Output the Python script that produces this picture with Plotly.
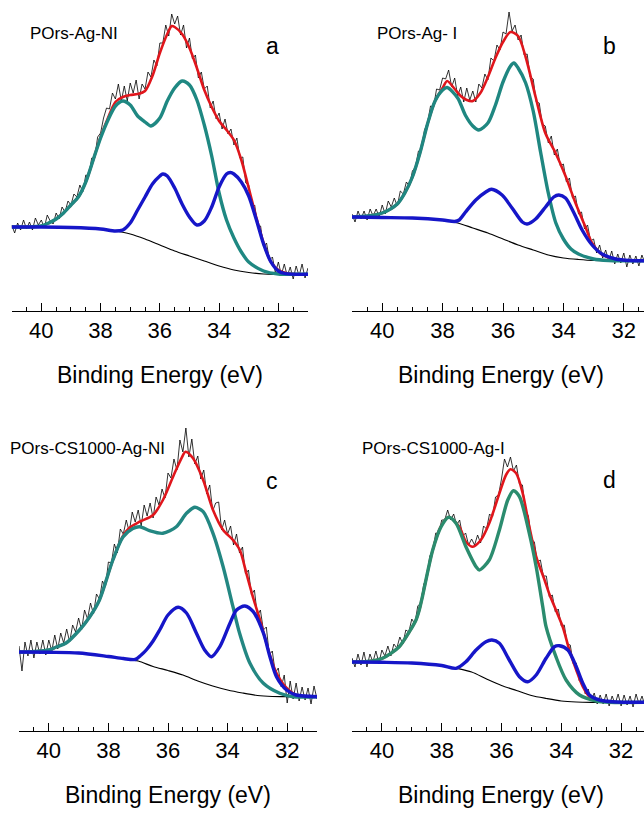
import plotly.graph_objects as go

# ---------------- measured spectra (binding energy grid, 0.1 eV step) ----------------
E_DATA = [round(41.0 - 0.1 * i, 1) for i in range(101)]

A_DATA = [86, 78, 88, 81, 91, 82, 89, 81, 93, 86,
          91, 83, 96, 90, 87, 98, 92, 104, 99, 110,
          106, 117, 114, 126, 119, 136, 135, 153, 153, 174,
          178, 193, 203, 202, 218, 212, 227, 210, 225, 210,
          228, 218, 231, 212, 227, 222, 239, 234, 251, 245,
          268, 268, 286, 275, 297, 287, 295, 276, 286, 263,
          273, 252, 256, 233, 239, 222, 225, 203, 210, 192,
          198, 182, 192, 177, 182, 166, 173, 153, 154, 128,
          126, 103, 106, 86, 85, 64, 68, 51, 54, 38,
          49, 36, 47, 35, 44, 32, 45, 35, 47, 33,
          43]
B_DATA = [97, 89, 100, 92, 100, 91, 102, 95, 102, 94,
          106, 97, 110, 104, 113, 105, 120, 117, 129, 125,
          140, 144, 160, 161, 181, 188, 205, 204, 222, 221,
          233, 232, 241, 224, 233, 215, 224, 209, 223, 211,
          220, 209, 227, 223, 237, 231, 253, 250, 266, 261,
          279, 277, 299, 280, 286, 271, 276, 256, 257, 234,
          232, 209, 208, 187, 185, 168, 175, 156, 162, 145,
          147, 129, 133, 113, 115, 97, 99, 82, 86, 70,
          72, 58, 66, 53, 61, 50, 60, 47, 57, 48,
          58, 44, 56, 47, 55, 45, 56, 48, 55, 46,
          53]
C_DATA = [85, 60, 89, 75, 91, 73, 89, 77, 91, 76,
          91, 80, 96, 82, 98, 88, 102, 89, 106, 99,
          113, 101, 121, 112, 128, 117, 137, 132, 150, 144,
          169, 168, 187, 178, 202, 197, 211, 199, 219, 209,
          221, 205, 226, 215, 228, 213, 234, 226, 242, 233,
          258, 253, 272, 261, 291, 279, 303, 274, 292, 267,
          275, 252, 261, 237, 246, 220, 228, 229, 201, 211,
          197, 205, 186, 197, 178, 184, 157, 161, 136, 141,
          115, 121, 101, 104, 76, 80, 58, 63, 44, 56,
          28, 50, 32, 48, 30, 44, 31, 43, 27, 45,
          32]
D_DATA = [73, 64, 77, 66, 79, 64, 77, 69, 80, 68,
          81, 75, 85, 75, 87, 83, 94, 87, 101, 99,
          112, 107, 125, 128, 147, 152, 175, 180, 198, 197,
          211, 211, 221, 211, 217, 206, 211, 195, 198, 186,
          192, 186, 196, 188, 205, 202, 217, 214, 234, 236,
          252, 272, 264, 274, 260, 266, 247, 246, 221, 215,
          192, 189, 169, 171, 155, 155, 134, 136, 119, 122,
          105, 106, 87, 86, 67, 68, 50, 52, 37, 42,
          30, 38, 27, 36, 27, 37, 25, 35, 27, 37,
          25, 36, 26, 35, 24, 37, 27, 35, 25, 34,
          26]

# ---------------- fitted curves (energy, intensity) ----------------
A_BG_E = [41, 40, 39, 38.5, 38, 37.5, 37, 36.5, 36, 35.5, 35, 34.5, 34, 33.5, 33, 32.5, 32, 31]
A_BG_I = [84, 84, 83.5, 83, 82, 80, 77, 72, 66, 60, 55, 50, 45, 41, 38.5, 37, 36.7, 36.7]
A_BLUE_E = [41, 40, 39, 38, 37.5, 37.25, 37, 36.75, 36.5, 36.25, 36, 35.9, 35.75, 35.5, 35.25, 35,
            34.75, 34.5, 34.25, 34, 33.75, 33.62, 33.5, 33.25, 33, 32.75, 32.5, 32.25, 32, 31.75, 31]
A_BLUE_I = [84, 84, 83.5, 82, 80, 81, 88, 101, 114, 127, 135, 137, 135, 123, 107, 94,
            86, 90, 104, 124, 137, 138.5, 137, 129, 115, 92, 67, 49, 40, 37.3, 36.7]
A_TEAL_E = [41, 40.5, 40, 39.75, 39.5, 39.25, 39, 38.75, 38.5, 38.25, 38, 37.75, 37.5, 37.25, 37,
            36.75, 36.5, 36.3, 36, 35.75, 35.5, 35.25, 35, 34.75, 34.5, 34.25, 34, 33.75, 33.5,
            33.25, 33, 32.5, 32, 31.5, 31]
A_TEAL_I = [84, 84, 85, 88, 92, 98, 106, 114, 129, 151, 173, 191, 205, 210, 206,
            195, 189, 185, 193, 210, 223, 230, 226, 211, 186, 155, 118, 91, 73,
            59, 49, 40, 37, 36.7, 36.7]
A_RED_E = [41, 40.5, 40, 39.75, 39.5, 39.25, 39, 38.75, 38.5, 38.25, 38, 37.75, 37.5, 37.25, 37,
           36.75, 36.5, 36.25, 36, 35.75, 35.6, 35.5, 35.25, 35, 34.75, 34.5, 34.25, 34, 33.75,
           33.5, 33.25, 33, 32.75, 32.5, 32.25, 32, 31.75, 31.5, 31]
A_RED_I = [84, 84, 85, 88, 92, 98, 106, 114, 129, 151, 174, 193, 209, 214, 216,
           217, 220, 235, 258, 277, 285, 284, 277, 263, 243, 221, 204, 190, 181,
           171, 151, 123, 94, 68, 49, 41, 38, 37, 36.7]

B_BG_E = [41, 40, 39, 38.5, 38, 37.5, 37, 36.5, 36, 35.5, 35, 34.5, 34, 33.5, 33, 32, 31]
B_BG_I = [94, 93.5, 93, 92, 90.5, 88, 83, 78, 72, 66, 61, 56, 53, 51.5, 50.5, 50.3, 50.3]
B_BLUE_E = [41, 40, 39, 38, 37.6, 37.45, 37.24, 36.9, 36.57, 36.38, 36.03, 35.7, 35.36, 35.2,
            34.92, 34.59, 34.32, 34.15, 33.93, 33.65, 33.38, 33.05, 32.72, 32.27, 31.8, 31]
B_BLUE_I = [94, 93.5, 93, 91, 89.5, 91, 99, 111, 119, 121.7, 116, 103, 89, 87,
            92, 104, 114, 116, 113, 98, 81, 66, 57, 52, 50.5, 50.3]
B_TEAL_E = [41, 40.5, 40, 39.5, 39.25, 39, 38.75, 38.5, 38.25, 38, 37.85, 37.5, 37.25, 37, 36.8,
            36.5, 36.25, 36, 35.75, 35.64, 35.5, 35.25, 35, 34.75, 34.5, 34.25, 34, 33.75, 33.5,
            33, 32.5, 32, 31]
B_TEAL_I = [94, 95, 98, 107, 118, 134, 158, 187, 210, 221, 223.5, 213, 196, 185, 181,
            188, 206, 229, 245, 248, 243, 228, 200, 158, 118, 88, 72, 62, 57,
            52, 50.5, 50.3, 50.3]
B_RED_E = [41, 40.5, 40, 39.5, 39.25, 39, 38.75, 38.5, 38.25, 38, 37.85, 37.6, 37.4, 37.2, 37,
           36.75, 36.5, 36.25, 36, 35.75, 35.5, 35.25, 34.92, 34.6, 34.26, 33.93, 33.6, 33.27,
           33.05, 32.7, 32.3, 31.8, 31]
B_RED_I = [94, 95, 98, 107, 118, 134, 158, 187, 210, 223, 230, 222, 215, 211, 210,
           218, 234, 253, 269, 279, 275, 254, 214, 178, 158, 135, 108, 84,
           68, 56, 52, 50.5, 50.3]

C_BG_E = [41, 40, 39, 38.5, 38, 37.5, 37, 36.5, 36, 35.5, 35, 34.5, 34, 33.5, 33, 32.5, 32, 31]
C_BG_I = [79, 78.7, 78, 76.5, 74.5, 72.5, 70, 64.5, 60.5, 56, 50, 45, 41, 38, 35.5, 34.5, 34.3, 34.3]
C_BLUE_E = [41, 40, 39, 38, 37.5, 37.1, 36.9, 36.73, 36.5, 36.28, 36, 35.66, 35.38, 35.05, 34.77,
            34.54, 34.26, 33.92, 33.7, 33.42, 33.14, 32.8, 32.58, 32.36, 32.02, 31.7, 31]
C_BLUE_I = [79, 78.7, 78, 74.5, 72.5, 71.5, 76, 81, 90, 101, 116, 123.7, 118, 98, 81,
            74.3, 84.3, 107.7, 121, 125, 119.3, 98, 74.3, 54.3, 41, 36, 34.3]
C_TEAL_E = [41, 40.5, 40, 39.75, 39.42, 38.97, 38.63, 38.3, 37.85, 37.51, 37.18, 36.95, 36.62,
            36.17, 35.72, 35.38, 35.1, 34.82, 34.49, 34.15, 33.82, 33.6, 33.25, 32.8, 32.25, 31.8, 31]
C_TEAL_I = [79, 79.5, 81, 84, 88, 101, 114, 131, 171, 194, 202.5, 204.3, 200.3,
            197.7, 204.3, 217.7, 223.7, 219.3, 197.7, 164.3, 124.3, 98, 67.7, 47.7, 37.7, 34.3, 34.3]
C_RED_E = [41, 40.5, 40, 39.75, 39.42, 38.97, 38.63, 38.3, 37.85, 37.51, 37.3, 36.95, 36.5, 36.17,
           35.83, 35.55, 35.41, 35.16, 34.82, 34.49, 34.15, 33.82, 33.59, 33.37, 33.12, 32.92,
           32.8, 32.58, 32.36, 32.02, 31.7, 31]
C_RED_I = [79, 79.5, 81, 84, 88, 101, 114, 131, 171, 195, 203, 209.3, 216, 231,
           254.3, 272.7, 279.3, 272.7, 251, 221, 201, 191, 181, 157.7, 131, 112,
           99, 76, 58, 43, 36, 34.3]

D_BG_E = [41, 40, 39, 38.5, 38, 37.5, 37, 36.5, 36, 35.5, 35, 34.5, 34, 33.5, 33, 31]
D_BG_I = [69, 68.7, 68, 67, 65.5, 62.7, 59, 52, 45.5, 40.5, 35.5, 32.5, 30, 29, 28.7, 28.7]
D_BLUE_E = [41, 40, 39, 38, 37.52, 37.19, 36.85, 36.52, 36.32, 36.07, 35.74, 35.4, 35.12, 34.84,
            34.51, 34.23, 34.06, 33.78, 33.5, 33.28, 33.06, 32.72, 32.3, 31]
D_BLUE_I = [69, 68.7, 68, 65.5, 62.7, 69.3, 81, 89.3, 91, 87.7, 71, 54.3, 49.3, 56,
            72.7, 84.3, 85.3, 81, 64.3, 47.7, 36, 31, 29.3, 28.7]
D_TEAL_E = [41, 40.5, 39.98, 39.42, 39.08, 38.86, 38.75, 38.64, 38.3, 38.02, 37.77, 37.52, 37.19,
            36.85, 36.74, 36.41, 36.07, 35.79, 35.6, 35.4, 35.07, 34.84, 34.62, 34.51, 34.18,
            33.84, 33.39, 32.83, 32.4, 31]
D_TEAL_I = [69, 69.5, 72.7, 84.3, 99.3, 111, 121, 135, 181, 204.3, 213.7, 207.7, 184.3,
            164.3, 161, 171, 201, 231, 240.3, 234.3, 197.7, 164.3, 124.3, 104.3, 74.3,
            51, 36, 30, 28.7, 28.7]
D_RED_E = [41, 40.5, 39.98, 39.42, 39.08, 38.86, 38.75, 38.64, 38.3, 38.02, 37.77, 37.41, 37.19,
           36.96, 36.69, 36.41, 36.07, 35.85, 35.7, 35.51, 35.29, 35.07, 34.84, 34.56, 34.4,
           34.18, 33.95, 33.73, 33.5, 33.28, 33.06, 32.72, 32.3, 31]
D_RED_I = [69, 69.5, 72.7, 84.3, 99.3, 111, 121, 135, 181, 205, 214, 204.3, 189.3,
           184.3, 191, 207.7, 237.7, 256, 261.7, 257.7, 237.7, 204.3, 174.3, 151, 137,
           121, 104, 81, 61, 44.3, 34.3, 30.3, 29, 28.7]

SAMPLE_NAMES = ["POrs-Ag-NI", "POrs-Ag- I", "POrs-CS1000-Ag-NI", "POrs-CS1000-Ag-I"]
PANEL_LETTERS = ["a", "b", "c", "d"]
TICK_VALUES = [40, 38, 36, 34, 32]
AXIS_TITLE = "Binding Energy (eV)"

# ---------------- styling / layout ----------------
W, H = 644, 813
FONT = "Liberation Sans, Arial, sans-serif"
RED = "#e0161c"
BLUE = "#1616c8"
TEALS = ["#1f8882", "#1f8781", "#238782", "#2b8c6e"]

def px(x):
    return x / W

def py(y):
    return 1 - y / H

panels = [
    dict(data=A_DATA, bg=(A_BG_E, A_BG_I), blue=(A_BLUE_E, A_BLUE_I), teal=(A_TEAL_E, A_TEAL_I),
         red=(A_RED_E, A_RED_I), xdom=(11.7, 308), xr=[41, 31], ybot=311),
    dict(data=B_DATA, bg=(B_BG_E, B_BG_I), blue=(B_BLUE_E, B_BLUE_I), teal=(B_TEAL_E, B_TEAL_I),
         red=(B_RED_E, B_RED_I), xdom=(352, 644), xr=[41, 41 - 292 / 30.2], ybot=311),
    dict(data=C_DATA, bg=(C_BG_E, C_BG_I), blue=(C_BLUE_E, C_BLUE_I), teal=(C_TEAL_E, C_TEAL_I),
         red=(C_RED_E, C_RED_I), xdom=(19, 317), xr=[41, 31], ybot=731),
    dict(data=D_DATA, bg=(D_BG_E, D_BG_I), blue=(D_BLUE_E, D_BLUE_I), teal=(D_TEAL_E, D_TEAL_I),
         red=(D_RED_E, D_RED_I), xdom=(352, 644), xr=[41, 41 - 292 / 29.9], ybot=731),
]
YSPAN = 311

fig = go.Figure()
layout = dict(width=W, height=H, margin=dict(l=0, r=0, t=0, b=0),
              paper_bgcolor="white", plot_bgcolor="white", showlegend=False)
annotations = []

title_pos = [(28, 33), (375, 33), (8, 448), (360, 448)]
letter_pos = [(272, 46), (609, 46), (272, 481), (609, 480)]
axis_title_x = [160, 501, 168, 501]

for i, p in enumerate(panels):
    n = "" if i == 0 else str(i + 1)
    xa, ya = "x" + n, "y" + n
    common = dict(xaxis=xa, yaxis=ya, hoverinfo="skip")
    fig.add_trace(go.Scatter(x=E_DATA, y=p["data"], mode="lines",
                             line=dict(color="black", width=0.8), **common))
    fig.add_trace(go.Scatter(x=p["bg"][0], y=p["bg"][1], mode="lines",
                             line=dict(color="black", width=1.2, shape="spline", smoothing=0.8), **common))
    fig.add_trace(go.Scatter(x=p["red"][0], y=p["red"][1], mode="lines",
                             line=dict(color=RED, width=2.6, shape="spline", smoothing=0.8), **common))
    fig.add_trace(go.Scatter(x=p["teal"][0], y=p["teal"][1], mode="lines",
                             line=dict(color=TEALS[i], width=3.4, shape="spline", smoothing=0.8), **common))
    fig.add_trace(go.Scatter(x=p["blue"][0], y=p["blue"][1], mode="lines",
                             line=dict(color=BLUE, width=3.4, shape="spline", smoothing=0.8), **common))

    ytop = p["ybot"] - YSPAN
    layout["xaxis" + n] = dict(
        domain=[px(p["xdom"][0]), px(p["xdom"][1])], range=p["xr"], anchor=ya,
        showline=True, linecolor="black", linewidth=1,
        ticks="inside", ticklen=8, tickwidth=1, tickcolor="black",
        tickmode="array", tickvals=TICK_VALUES, ticktext=[str(v) for v in TICK_VALUES],
        tickfont=dict(family=FONT, size=22, color="black"),
        minor=dict(ticks="inside", ticklen=4, tickwidth=1, tickcolor="black", dtick=0.5, tick0=40,
                   showgrid=False),
        showgrid=False, zeroline=False, fixedrange=True,
    )
    layout["yaxis" + n] = dict(domain=[py(p["ybot"]), py(ytop)], range=[0, YSPAN], anchor=xa,
                               visible=False, fixedrange=True)

    annotations.append(dict(text=SAMPLE_NAMES[i], x=px(title_pos[i][0]), y=py(title_pos[i][1]),
                            xref="paper", yref="paper", xanchor="left", yanchor="middle",
                            showarrow=False, font=dict(family=FONT, size=17, color="black")))
    annotations.append(dict(text=PANEL_LETTERS[i], x=px(letter_pos[i][0]), y=py(letter_pos[i][1]),
                            xref="paper", yref="paper", xanchor="center", yanchor="middle",
                            showarrow=False, font=dict(family=FONT, size=23, color="black")))
    annotations.append(dict(text=AXIS_TITLE, x=px(axis_title_x[i]), y=py(p["ybot"] + 64),
                            xref="paper", yref="paper", xanchor="center", yanchor="middle",
                            showarrow=False, font=dict(family=FONT, size=23, color="black")))

layout["annotations"] = annotations
fig.update_layout(**layout)
fig.write_html("out.html",
               config={"displayModeBar": False, "staticPlot": True},
               post_script="document.body.style.margin='0px';document.body.style.overflow='hidden';")
